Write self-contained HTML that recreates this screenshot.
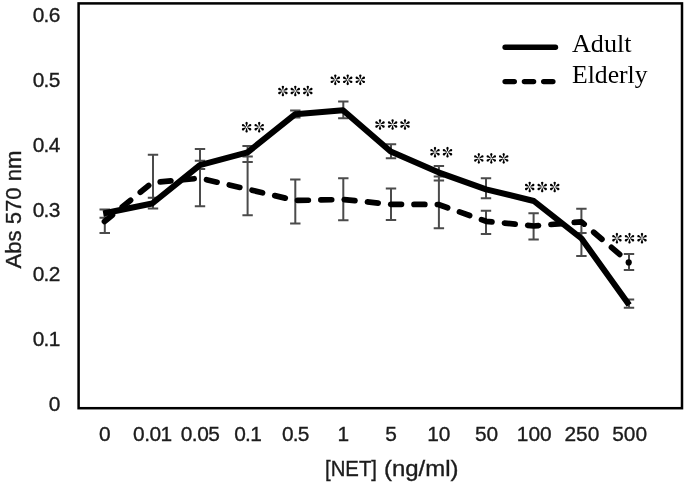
<!DOCTYPE html>
<html><head><meta charset="utf-8"><style>
html,body{margin:0;padding:0;background:#fff;}
body{width:685px;height:484px;overflow:hidden;}
svg{display:block;filter:grayscale(1);}
.t{font-family:"Liberation Sans",sans-serif;fill:#1c1c1c;stroke:#1c1c1c;stroke-width:0.35px;}
.s{font-family:"Liberation Serif",serif;fill:#000;}
</style></head><body>
<svg width="685" height="484" viewBox="0 0 685 484">
<defs>
<path id="pt" d="M-0.22,-0.7L-0.9,-3.3A1.2 1.2 0 1 1 0.9,-3.3L0.22,-0.7Z"/>
<g id="ast"><use href="#pt"/><use href="#pt" transform="rotate(60)"/><use href="#pt" transform="rotate(120)"/><use href="#pt" transform="rotate(180)"/><use href="#pt" transform="rotate(240)"/><use href="#pt" transform="rotate(300)"/></g>
</defs>
<rect x="0" y="0" width="685" height="484" fill="#fff"/>
<rect x="78.6" y="3.4" width="603.4" height="404.8" fill="none" stroke="#000" stroke-width="2.5"/>
<text class="t" x="60.3" y="21.8" font-size="20.9" text-anchor="end" textLength="27.55" lengthAdjust="spacing">0.6</text>
<text class="t" x="60.3" y="86.7" font-size="20.9" text-anchor="end" textLength="27.55" lengthAdjust="spacing">0.5</text>
<text class="t" x="60.3" y="151.6" font-size="20.9" text-anchor="end" textLength="27.55" lengthAdjust="spacing">0.4</text>
<text class="t" x="60.3" y="216.5" font-size="20.9" text-anchor="end" textLength="27.55" lengthAdjust="spacing">0.3</text>
<text class="t" x="60.3" y="281.4" font-size="20.9" text-anchor="end" textLength="27.55" lengthAdjust="spacing">0.2</text>
<text class="t" x="60.3" y="346.3" font-size="20.9" text-anchor="end" textLength="27.55" lengthAdjust="spacing">0.1</text>
<text class="t" x="60.3" y="411.2" font-size="20.9" text-anchor="end">0</text>
<text class="t" x="104.9" y="440.5" font-size="20.9" text-anchor="middle">0</text>
<text class="t" x="152.6" y="440.5" font-size="20.9" text-anchor="middle" textLength="39.17" lengthAdjust="spacing">0.01</text>
<text class="t" x="200.3" y="440.5" font-size="20.9" text-anchor="middle" textLength="39.17" lengthAdjust="spacing">0.05</text>
<text class="t" x="248.0" y="440.5" font-size="20.9" text-anchor="middle" textLength="27.55" lengthAdjust="spacing">0.1</text>
<text class="t" x="295.7" y="440.5" font-size="20.9" text-anchor="middle" textLength="27.55" lengthAdjust="spacing">0.5</text>
<text class="t" x="343.4" y="440.5" font-size="20.9" text-anchor="middle">1</text>
<text class="t" x="391.1" y="440.5" font-size="20.9" text-anchor="middle">5</text>
<text class="t" x="438.8" y="440.5" font-size="20.9" text-anchor="middle">10</text>
<text class="t" x="486.5" y="440.5" font-size="20.9" text-anchor="middle">50</text>
<text class="t" x="534.2" y="440.5" font-size="20.9" text-anchor="middle">100</text>
<text class="t" x="581.9" y="440.5" font-size="20.9" text-anchor="middle">250</text>
<text class="t" x="629.6" y="440.5" font-size="20.9" text-anchor="middle">500</text>
<text class="t" x="325" y="475.5" font-size="21.2" textLength="52" lengthAdjust="spacingAndGlyphs">[NET]</text>
<text class="t" x="384" y="475.5" font-size="21.2" textLength="74.5" lengthAdjust="spacingAndGlyphs">(ng/ml)</text>
<text class="t" transform="translate(20.5,209.6) rotate(-90)" x="0" y="0" font-size="21.8" text-anchor="middle" textLength="118" lengthAdjust="spacingAndGlyphs">Abs 570 nm</text>
<path d="M104.8,209.4V233.0M99.5,209.4H110.0M99.5,217.8H110.0M99.5,233.0H110.0M153.0,154.8V208.6M147.8,154.8H158.2M147.8,197.7H158.2M147.8,208.6H158.2M200.0,149.0V206.2M194.8,149.0H205.2M194.8,160.7H205.2M194.8,168.9H205.2M194.8,206.2H205.2M247.6,145.9V215.2M242.4,145.9H252.8M242.4,156.5H252.8M242.4,162.0H252.8M242.4,215.2H252.8M295.3,110.6V117.5M295.3,179.4V223.5M290.1,110.6H300.5M290.1,117.5H300.5M290.1,179.4H300.5M290.1,223.5H300.5M343.3,101.4V118.3M343.3,178.2V220.2M338.1,101.4H348.5M338.1,118.3H348.5M338.1,178.2H348.5M338.1,220.2H348.5M391.0,144.2V158.2M391.0,188.5V220.1M385.8,144.2H396.2M385.8,158.2H396.2M385.8,188.5H396.2M385.8,220.1H396.2M438.9,165.9V228.2M433.7,165.9H444.1M433.7,176.6H444.1M433.7,180.5H444.1M433.7,228.2H444.1M486.0,178.2V198.2M486.0,210.7V233.9M480.8,178.2H491.2M480.8,198.2H491.2M480.8,210.7H491.2M480.8,233.9H491.2M533.6,213.2V239.5M528.4,213.2H538.8M528.4,239.5H538.8M581.4,208.7V256.0M576.2,208.7H586.6M576.2,232.9H586.6M576.2,256.0H586.6M629.0,299.4V307.7M629.0,253.9V270.1M623.8,299.4H634.2M623.8,307.7H634.2M623.8,253.9H634.2M623.8,270.1H634.2" stroke="#4b4b4b" stroke-width="2" fill="none"/>
<polyline points="104.50,221.50 152.20,182.60 199.90,178.20 247.60,189.20 295.30,200.50 343.00,199.50 390.70,204.30 438.40,204.50 486.10,221.30 533.80,226.00 581.50,221.80 629.20,262.50" fill="none" stroke="#000" stroke-width="5.7" stroke-linecap="round" stroke-linejoin="round" stroke-dasharray="10.8 12.55" stroke-dashoffset="0.49"/>
<circle cx="628.7" cy="262.4" r="3.1" fill="#000"/>
<polyline points="103.23,213.56 152.20,203.50 199.90,165.10 247.60,152.30 295.30,114.20 343.00,110.20 390.70,151.60 438.40,172.30 486.10,189.30 533.80,201.00 581.50,238.50 629.20,305.00" fill="none" stroke="#000" stroke-width="6.0" stroke-linejoin="round"/>
<use href="#ast" x="246.6" y="127.2"/><use href="#ast" x="259.2" y="127.2"/>
<use href="#ast" x="282.9" y="91.0"/><use href="#ast" x="295.3" y="91.0"/><use href="#ast" x="307.8" y="91.0"/>
<use href="#ast" x="335.3" y="79.8"/><use href="#ast" x="347.7" y="79.8"/><use href="#ast" x="360.3" y="79.8"/>
<use href="#ast" x="380.0" y="124.5"/><use href="#ast" x="392.6" y="124.5"/><use href="#ast" x="405.0" y="124.5"/>
<use href="#ast" x="435.0" y="152.2"/><use href="#ast" x="447.5" y="152.2"/>
<use href="#ast" x="478.8" y="158.4"/><use href="#ast" x="491.3" y="158.4"/><use href="#ast" x="503.7" y="158.4"/>
<use href="#ast" x="529.7" y="187.0"/><use href="#ast" x="542.2" y="187.0"/><use href="#ast" x="554.7" y="187.0"/>
<use href="#ast" x="616.9" y="238.2"/><use href="#ast" x="629.5" y="238.2"/><use href="#ast" x="642.0" y="238.2"/>
<line x1="505.1" y1="47.3" x2="555.5" y2="47.3" stroke="#000" stroke-width="5.4" stroke-linecap="round"/>
<line x1="505.1" y1="81.6" x2="553.1" y2="81.6" stroke="#000" stroke-width="5.4" stroke-linecap="round" stroke-dasharray="9.2 10.1"/>
<text class="s" x="572" y="52.2" font-size="25" textLength="59.5" lengthAdjust="spacingAndGlyphs">Adult</text>
<text class="s" x="572" y="82.8" font-size="25" textLength="75.6" lengthAdjust="spacingAndGlyphs">Elderly</text>
</svg>
</body></html>
